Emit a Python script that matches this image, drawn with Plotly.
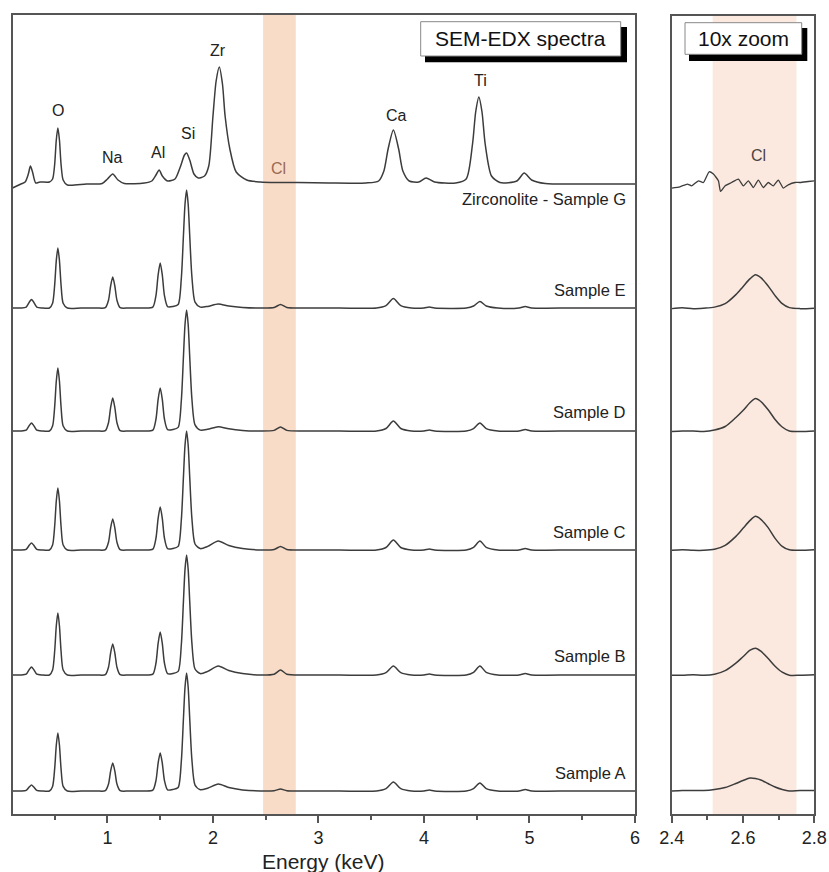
import plotly.graph_objects as go

# ---------------- data ----------------
# energy grid shared by the five glass samples (keV)
X_LOW = [0.10, 0.18, 0.23, 0.26, 0.28, 0.30, 0.33, 0.38, 0.45, 0.48, 0.50, 0.515, 0.53, 0.545, 0.56,
         0.58, 0.62, 0.75, 0.90, 0.98, 1.01, 1.03, 1.05, 1.07, 1.09, 1.12, 1.20, 1.35, 1.43, 1.46,
         1.48, 1.50, 1.52, 1.54, 1.57, 1.62, 1.67, 1.70, 1.72, 1.735, 1.75, 1.765, 1.78, 1.80, 1.83,
         1.88, 1.95, 2.05, 2.15, 2.28, 2.45, 2.58, 2.64, 2.70, 2.85, 3.20, 3.55, 3.64, 3.71, 3.78,
         3.88, 4.00, 4.05, 4.10, 4.40, 4.47, 4.53, 4.59, 4.70, 4.90, 4.96, 5.02, 5.40, 5.80, 6.00]

SAMPLE_E = [0, 0, 0.9, 6.0, 8.5, 6.0, 0.9, 0, 0, 4.8, 23.4, 47.4, 60, 47.4, 23.4,
            4.8, 0, 0, 0, 0.3, 7.8, 22.0, 31, 22.0, 7.8, 0.3, 0, 0, 0.9, 12.6,
            32.9, 45, 32.9, 12.6, 1.4, 1.5, 3.5, 29.5, 72.0, 103.8, 118, 103.8, 72.0, 31.9, 5.9,
            0.9, 1.6, 4, 2, 0.6, 0, 0.5, 3.5, 0.5, 0, 0, 0, 2.4, 9.5, 2.4,
            0, 0, 1, 0, 0, 2.0, 6.5, 2.0, 0, 0, 1.5, 0, 0, 0, 0]
SAMPLE_D = [0, 0, 0.8, 5.6, 8, 5.6, 0.8, 0, 0, 5.0, 24.6, 49.8, 63, 49.8, 24.6,
            5.0, 0, 0, 0, 0.3, 8.3, 23.4, 33, 23.4, 8.3, 0.3, 0, 0, 0.9, 12.0,
            31.4, 43, 31.4, 12.0, 1.3, 1.5, 3.6, 30.3, 73.8, 106.5, 121, 106.5, 73.8, 32.7, 6.1,
            0.9, 1.7, 4.3, 2.2, 0.6, 0, 0.6, 4, 0.6, 0, 0, 0, 2.5, 10, 2.5,
            0, 0, 1, 0, 0, 2.4, 8, 2.4, 0, 0, 1.5, 0, 0, 0, 0]
SAMPLE_C = [0, 0, 0.7, 4.9, 7, 4.9, 0.7, 0, 0, 5.0, 24.2, 49.0, 62, 49.0, 24.2,
            5.0, 0, 0, 0, 0.3, 7.8, 22.0, 31, 22.0, 7.8, 0.3, 0, 0, 0.9, 12.0,
            31.4, 43, 31.4, 12.0, 1.3, 1.5, 3.6, 29.8, 72.6, 104.7, 119, 104.7, 72.6, 32.1, 6.0,
            1.4, 3.6, 9, 4.5, 1.4, 0, 0.5, 3.5, 0.5, 0, 0, 0, 2.5, 10, 2.5,
            0, 0, 1, 0, 0, 2.7, 9, 2.7, 0, 0, 1.5, 0, 0, 0, 0]
SAMPLE_B = [0, 0, 0.8, 5.6, 8, 5.6, 0.8, 0, 0, 5.0, 24.2, 49.0, 62, 49.0, 24.2,
            5.0, 0, 0, 0, 0.3, 7.8, 22.0, 31, 22.0, 7.8, 0.3, 0, 0, 0.9, 12.0,
            31.4, 43, 31.4, 12.0, 1.3, 1.5, 3.6, 30.0, 73.2, 105.6, 120, 105.6, 73.2, 32.4, 6.0,
            1.4, 3.6, 9, 4.5, 1.4, 0, 0.8, 5, 0.8, 0, 0, 0, 2.3, 9, 2.3,
            0, 0, 1, 0, 0, 2.7, 9, 2.7, 0, 0, 1.5, 0, 0, 0, 0]
SAMPLE_A = [0, 0, 0.6, 4.2, 6, 4.2, 0.6, 0, 0, 4.6, 22.6, 45.8, 58, 45.8, 22.6,
            4.6, 0, 0, 0, 0.3, 7.0, 19.9, 28, 19.9, 7.0, 0.3, 0, 0, 0.8, 10.6,
            27.7, 38, 27.7, 10.6, 1.1, 1.5, 3.5, 29.5, 72.0, 103.8, 118, 103.8, 72.0, 31.9, 5.9,
            1.2, 2.8, 7, 3.5, 1.1, 0, 0.3, 2, 0.3, 0, 0, 0, 2.3, 9, 2.3,
            0, 0, 1, 0, 0, 2.4, 8, 2.4, 0, 0, 1.5, 0, 0, 0, 0]

# zirconolite reference spectrum
X_G = [0.10, 0.18, 0.22, 0.25, 0.27, 0.29, 0.32, 0.36, 0.45, 0.48, 0.50, 0.515, 0.53, 0.545, 0.56,
       0.58, 0.62, 0.80, 0.95, 1.00, 1.05, 1.10, 1.16, 1.35, 1.42, 1.46, 1.49, 1.52, 1.57, 1.64,
       1.69, 1.73, 1.75, 1.78, 1.82, 1.86, 1.92, 1.96, 2.00, 2.03, 2.06, 2.09, 2.115, 2.16, 2.22,
       2.32, 2.45, 2.60, 2.80, 3.10, 3.45, 3.57, 3.62, 3.66, 3.71, 3.76, 3.80, 3.86, 3.95, 4.02,
       4.10, 4.30, 4.40, 4.46, 4.49, 4.52, 4.55, 4.58, 4.64, 4.72, 4.88, 4.95, 5.02, 5.15, 5.50, 6.00]
SAMPLE_G = [-4, 0, 2, 10, 18, 12, 1, 2, 2, 5, 20, 44, 56, 44, 20,
            4, -1, 0, 0.5, 5, 10, 4, 0.5, 1, 3, 9, 14, 8, 3, 5,
            17, 29, 31, 24, 10, 6, 8, 18, 68, 103, 117, 100, 68, 35, 12,
            4, 2, 1.5, 1.5, 1, 1, 3, 13, 35, 54, 35, 13, 3, 2, 6,
            2, 1, 5, 40, 72, 87, 72, 40, 8, 1.5, 3, 11, 4, 0.5, 0, 0]

# 10x zoom of the Cl K-alpha region
X_ZOOM = [2.40, 2.43, 2.46, 2.49, 2.52, 2.55, 2.58, 2.60, 2.62, 2.635, 2.65, 2.67, 2.69, 2.71, 2.73, 2.76, 2.80]
ZOOM_E = [0, 1, 0, 0.5, 1.5, 5, 14, 22, 30, 34, 31, 23, 13, 5, 1, 0, 0.5]
ZOOM_D = [0, 0.5, 0.5, 0, 1.5, 5, 14, 21, 29, 33, 30, 22, 12, 4.5, 0.5, 0, 0.5]
ZOOM_C = [0, 0.5, 0, 0, 1, 5, 14, 22, 30, 34, 31, 23, 12, 4, 0.5, 0, 0.5]
ZOOM_B = [0, 0, 0.5, 0, 1, 4.5, 12, 18.5, 25, 27, 24, 17, 9, 3, 0, 0, 0.5]
ZOOM_A = [0, 0.5, 0.5, 0.5, 1.5, 3.5, 7.5, 10.5, 13, 12.5, 11, 7.5, 4, 1.5, 0, 0.5, 0.5]
X_ZOOM_G = [2.40, 2.423, 2.444, 2.456, 2.475, 2.489, 2.505, 2.517, 2.531, 2.537, 2.55, 2.568, 2.587, 2.601,
            2.615, 2.629, 2.643, 2.657, 2.671, 2.685, 2.699, 2.713, 2.727, 2.746, 2.76, 2.783, 2.80]
ZOOM_G = [-3.3, -2, 0.7, -1, 4, 2.3, 13, 10.7, 4, -6.7, -1, 2.3, 5.7, -1,
          4, -2.7, 4.7, -2.7, 2.3, -1, 4.7, -3.3, 0, 2.3, 2.3, 3.3, 4]

SAMPLE_NAMES = ["Sample A", "Sample B", "Sample C", "Sample D", "Sample E", "Zirconolite - Sample G"]
OFFSETS = [23, 139, 264, 383, 506, 630]          # vertical stacking offsets
LABEL_Y = [41, 158, 282, 402, 524, 615]           # sample label heights

ELEMENTS = ["O", "Na", "Al", "Si", "Zr", "Cl", "Ca", "Ti"]
ELEMENT_E = [0.53, 1.051, 1.483, 1.762, 2.052, 2.621, 3.743, 4.533]
ELEMENT_Y = [704, 657, 662, 681, 764, 646, 699, 734]

CL_BAND_MAIN = [2.475, 2.785]
CL_BAND_ZOOM = [2.515, 2.75]

low_series = [SAMPLE_A, SAMPLE_B, SAMPLE_C, SAMPLE_D, SAMPLE_E]
zoom_series = [ZOOM_A, ZOOM_B, ZOOM_C, ZOOM_D, ZOOM_E]
for s in low_series:
    assert len(s) == len(X_LOW)
for s in zoom_series:
    assert len(s) == len(X_ZOOM)
assert len(X_G) == len(SAMPLE_G) and len(X_ZOOM_G) == len(ZOOM_G)

# ---------------- figure ----------------
W, H = 829, 872
LINE = "#3c3c3c"
FRAME = "#555555"
FONT = "Liberation Sans, Arial, sans-serif"


def px(xp):
    return xp / W


def py(yp):
    return 1 - yp / H


fig = go.Figure()

for ys, off in zip(low_series, OFFSETS[:5]):
    fig.add_trace(go.Scatter(x=X_LOW, y=[v + off for v in ys], mode="lines",
                             line=dict(color=LINE, width=1.5, shape="spline", smoothing=0.7),
                             xaxis="x", yaxis="y", showlegend=False, hoverinfo="skip"))
fig.add_trace(go.Scatter(x=X_G, y=[v + OFFSETS[5] for v in SAMPLE_G], mode="lines",
                         line=dict(color=LINE, width=1.5, shape="spline", smoothing=0.7),
                         xaxis="x", yaxis="y", showlegend=False, hoverinfo="skip"))

for ys, off in zip(zoom_series, OFFSETS[:5]):
    fig.add_trace(go.Scatter(x=X_ZOOM, y=[v + off for v in ys], mode="lines",
                             line=dict(color=LINE, width=1.5, shape="spline", smoothing=0.8),
                             xaxis="x2", yaxis="y2", showlegend=False, hoverinfo="skip"))
fig.add_trace(go.Scatter(x=X_ZOOM_G, y=[v + OFFSETS[5] for v in ZOOM_G], mode="lines",
                         line=dict(color=LINE, width=1.3, shape="spline", smoothing=0.5),
                         xaxis="x2", yaxis="y2", showlegend=False, hoverinfo="skip"))

shapes = [
    dict(type="rect", xref="x", yref="y domain", x0=CL_BAND_MAIN[0], x1=CL_BAND_MAIN[1], y0=0, y1=1,
         fillcolor="#f8dcc8", line=dict(width=0), layer="below"),
    dict(type="rect", xref="x2", yref="y2 domain", x0=CL_BAND_ZOOM[0], x1=CL_BAND_ZOOM[1], y0=0, y1=1,
         fillcolor="#fbe9df", line=dict(width=0), layer="below"),
    # legend-like boxes with drop shadow
    dict(type="rect", xref="paper", yref="paper", x0=px(425), x1=px(627), y0=py(62.3), y1=py(27),
         fillcolor="black", line=dict(width=0)),
    dict(type="rect", xref="paper", yref="paper", x0=px(420.7), x1=px(620.7), y0=py(56), y1=py(21.7),
         fillcolor="white", line=dict(color="#888888", width=1)),
    dict(type="rect", xref="paper", yref="paper", x0=px(689), x1=px(807.3), y0=py(61), y1=py(28),
         fillcolor="black", line=dict(width=0)),
    dict(type="rect", xref="paper", yref="paper", x0=px(685), x1=px(801.7), y0=py(54.3), y1=py(22.7),
         fillcolor="white", line=dict(color="#888888", width=1)),
]

annotations = []
for name, ly in zip(SAMPLE_NAMES, LABEL_Y):
    annotations.append(dict(text=name, x=5.93, y=ly, xref="x", yref="y", xanchor="right",
                            yanchor="middle", showarrow=False, font=dict(family=FONT, size=16.5, color="#222")))
for el, ex, ey in zip(ELEMENTS, ELEMENT_E, ELEMENT_Y):
    col = "#9a6a52" if el == "Cl" else "#222"
    annotations.append(dict(text=el, x=ex, y=ey, xref="x", yref="y", showarrow=False,
                            xanchor="center", yanchor="middle",
                            font=dict(family=FONT, size=16, color=col)))
annotations.append(dict(text="Cl", x=2.643, y=659, xref="x2", yref="y2", showarrow=False,
                        xanchor="center", yanchor="middle",
                        font=dict(family=FONT, size=16, color="#4a4242")))
annotations.append(dict(text="SEM-EDX spectra", x=px(520.7), y=py(38.9), xref="paper", yref="paper",
                        xanchor="center", yanchor="middle",
                        showarrow=False, font=dict(family=FONT, size=21, color="#111")))
annotations.append(dict(text="10x zoom", x=px(743.3), y=py(38.5), xref="paper", yref="paper",
                        xanchor="center", yanchor="middle",
                        showarrow=False, font=dict(family=FONT, size=21, color="#111")))
annotations.append(dict(text="Energy (keV)", x=px((12.5 + 635) / 2), y=py(861), xref="paper", yref="paper",
                        xanchor="center", yanchor="middle",
                        showarrow=False, font=dict(family=FONT, size=21, color="#222")))

axis_common = dict(showline=True, mirror=True, linecolor=FRAME, linewidth=1.5, showgrid=False,
                   zeroline=False, automargin=False)
fig.update_layout(
    template="none",
    width=W, height=H, autosize=False,
    margin=dict(l=0, r=0, t=0, b=0, pad=0),
    paper_bgcolor="white", plot_bgcolor="white",
    shapes=shapes, annotations=annotations,
    xaxis=dict(domain=[px(12.5), px(635)], range=[0.1, 6.0], anchor="y", tick0=0, dtick=1,
               ticks="outside", ticklen=7, tickwidth=1.5, tickcolor=FRAME,
               minor=dict(ticks="outside", ticklen=4, tickwidth=1.5, tickcolor=FRAME, dtick=0.5, tick0=0),
               tickfont=dict(family=FONT, size=18, color="#222"), **axis_common),
    yaxis=dict(domain=[py(814), py(15)], range=[0, 799], anchor="x", ticks="", showticklabels=False,
               **axis_common),
    xaxis2=dict(domain=[px(671.7), px(814.3)], range=[2.4, 2.8], anchor="y2", tick0=2.4, dtick=0.2,
                ticks="outside", ticklen=7, tickwidth=1.5, tickcolor=FRAME,
                minor=dict(ticks="outside", ticklen=4, tickwidth=1.5, tickcolor=FRAME, dtick=0.1, tick0=2.4),
                tickfont=dict(family=FONT, size=18, color="#222"), **axis_common),
    yaxis2=dict(domain=[py(814), py(16)], range=[0, 799], anchor="x2", ticks="", showticklabels=False,
                **axis_common),
)

fig.write_html("out.html", config={"displayModeBar": False},
               post_script="document.body.style.margin='0px';")
